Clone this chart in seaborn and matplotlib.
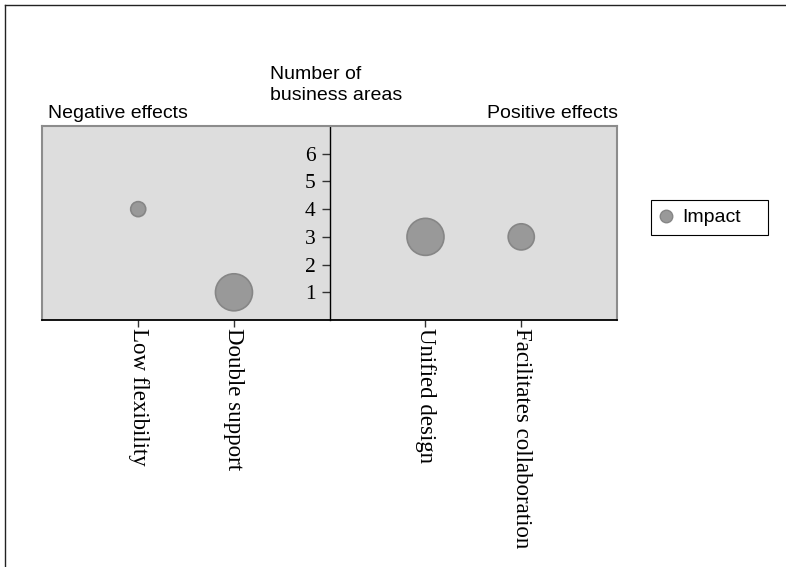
import matplotlib.pyplot as plt
from matplotlib.lines import Line2D
from matplotlib.patches import Rectangle
import pandas as pd
import seaborn as sns

effects = ['Low flexibility', 'Double support', 'Unified design', 'Facilitates collaboration']
sides = ['Negative', 'Negative', 'Positive', 'Positive']
areas = [4, 1, 3, 3]
impact = [1, 6, 6, 3]
y_ticks = [1, 2, 3, 4, 5, 6]

df = pd.DataFrame({'effect': effects, 'side': sides, 'areas': areas, 'impact': impact})
# slot 3 stays free, the y axis sits there between negative and positive effects
df['pos'] = [i + 1 if s == 'Negative' else i + 2 for i, s in enumerate(sides)]

plt.rcParams['font.family'] = 'Liberation Sans'
serif = 'Liberation Serif'
bubble_face = '#999999'
bubble_edge = '#868686'
frame_grey = '#8c8c8c'

fig = plt.figure(figsize=(7.86, 5.67), dpi=100)
ax = fig.add_axes([0.054, 0.4356, 0.731, 0.3422])

sns.scatterplot(data=df, x='pos', y='areas', size='impact', sizes=(117, 710),
                size_norm=(1, 6), color=bubble_face, edgecolor=bubble_edge,
                linewidth=1.2, alpha=1, legend=False, ax=ax, zorder=3)

ax.set_xlim(0, 6)
ax.set_ylim(0, 7)
ax.set_facecolor('#dddddd')
ax.set_xlabel('')
ax.set_ylabel('')

# y axis in the middle of the plot
ax.spines['left'].set_position(('data', 3))
ax.spines['left'].set_color('black')
ax.spines['left'].set_linewidth(1)
ax.spines['bottom'].set_color('black')
ax.spines['bottom'].set_linewidth(1.3)
for s in ['top', 'right']:
    ax.spines[s].set_color(frame_grey)
    ax.spines[s].set_linewidth(1.5)
ax.plot([0, 0], [0, 1], transform=ax.transAxes, color=frame_grey, lw=1.5, clip_on=False)

ax.set_yticks(y_ticks)
ax.set_yticklabels([str(v) for v in y_ticks], fontfamily=serif, fontsize=15.5)
ax.tick_params(axis='y', direction='out', length=6, width=1, pad=4, color='#333333')

ax.set_xticks(df['pos'])
ax.set_xticklabels(df['effect'], rotation=270, fontfamily=serif, fontsize=16.5)
ax.tick_params(axis='x', direction='out', length=5, width=1, pad=1, color='#333333')

# titles
fig.text(48 / 786, 1 - 118 / 567, 'Negative effects', fontsize=14, va='baseline', ha='left')
fig.text(618 / 786, 1 - 118 / 567, 'Positive effects', fontsize=14, va='baseline', ha='right')
fig.text(270 / 786, 1 - 79 / 567, 'Number of', fontsize=14, va='baseline', ha='left')
fig.text(270 / 786, 1 - 100 / 567, 'business areas', fontsize=14, va='baseline', ha='left')

# legend, its box is drawn separately because it is wider than the entry
handle = Line2D([], [], marker='o', ls='', markersize=9,
                markerfacecolor=bubble_face, markeredgecolor=bubble_edge)
fig.legend([handle], ['Impact'], loc='center left', bbox_to_anchor=(658 / 786, 1 - 217.5 / 567),
           frameon=False, fontsize=14, handlelength=0.8, handletextpad=0.45,
           borderpad=0, borderaxespad=0)
fig.add_artist(Rectangle((651 / 786, 1 - 235 / 567), 117 / 786, 35 / 567,
                         transform=fig.transFigure, fill=False, ec='black', lw=0.8))

# page border (top and left)
fig.add_artist(Line2D([5 / 786, 1], [1 - 5 / 567, 1 - 5 / 567], transform=fig.transFigure,
                      color='#222222', lw=1))
fig.add_artist(Line2D([5 / 786, 5 / 786], [0, 1 - 5 / 567], transform=fig.transFigure,
                      color='#222222', lw=1))

fig.savefig('out.png', dpi=100)
